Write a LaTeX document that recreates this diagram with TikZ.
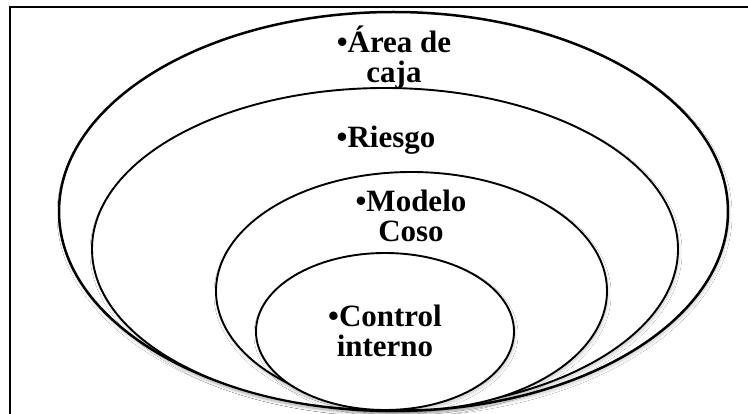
\documentclass[tikz,border=0pt]{standalone}
\usepackage{fontspec}
\setmainfont{Liberation Serif}
\usetikzlibrary{shapes.geometric,shadows.blur}
\tikzset{
  ring/.style={ellipse, draw=black, fill=white, inner sep=0pt, line width=1.9pt,
    blur shadow={shadow xshift=1pt, shadow yshift=-3pt, shadow blur radius=3pt, shadow blur steps=12, shadow opacity=20}},
  lbl/.style={font=\bfseries\fontsize{31}{30}\selectfont, align=center, inner sep=0pt},
  frame/.style={draw=black, line width=1.6pt}
}
\begin{document}
\begin{tikzpicture}[x=1pt,y=-1pt]
\useasboundingbox (0,0) rectangle (748,414);
\clip (0,0) rectangle (748,414);
\fill[white] (0,0) rectangle (748,414);
\draw[frame] (10,7) rectangle (780,440);
\node[ring, line width=2.5pt, minimum width=669pt, minimum height=399pt] (e1) at (393.5,211.5) {};
\node[ring, minimum width=586pt, minimum height=322pt] (e2) at (385,249) {};
\node[ring, minimum width=391pt, minimum height=238pt] (e3) at (411.5,291) {};
\node[ring, minimum width=258pt, minimum height=157pt] (e4) at (385,331.5) {};
\node[lbl, anchor=base] (t1) at (394,83) {•Área de\\caja};
\node[lbl, anchor=base] (t2) at (386,148) {•Riesgo};
\node[lbl, anchor=base] (t3) at (411,242) {•Modelo\\Coso};
\node[lbl, anchor=base] (t4) at (385,357) {•Control\\interno};
\end{tikzpicture}
\end{document}
